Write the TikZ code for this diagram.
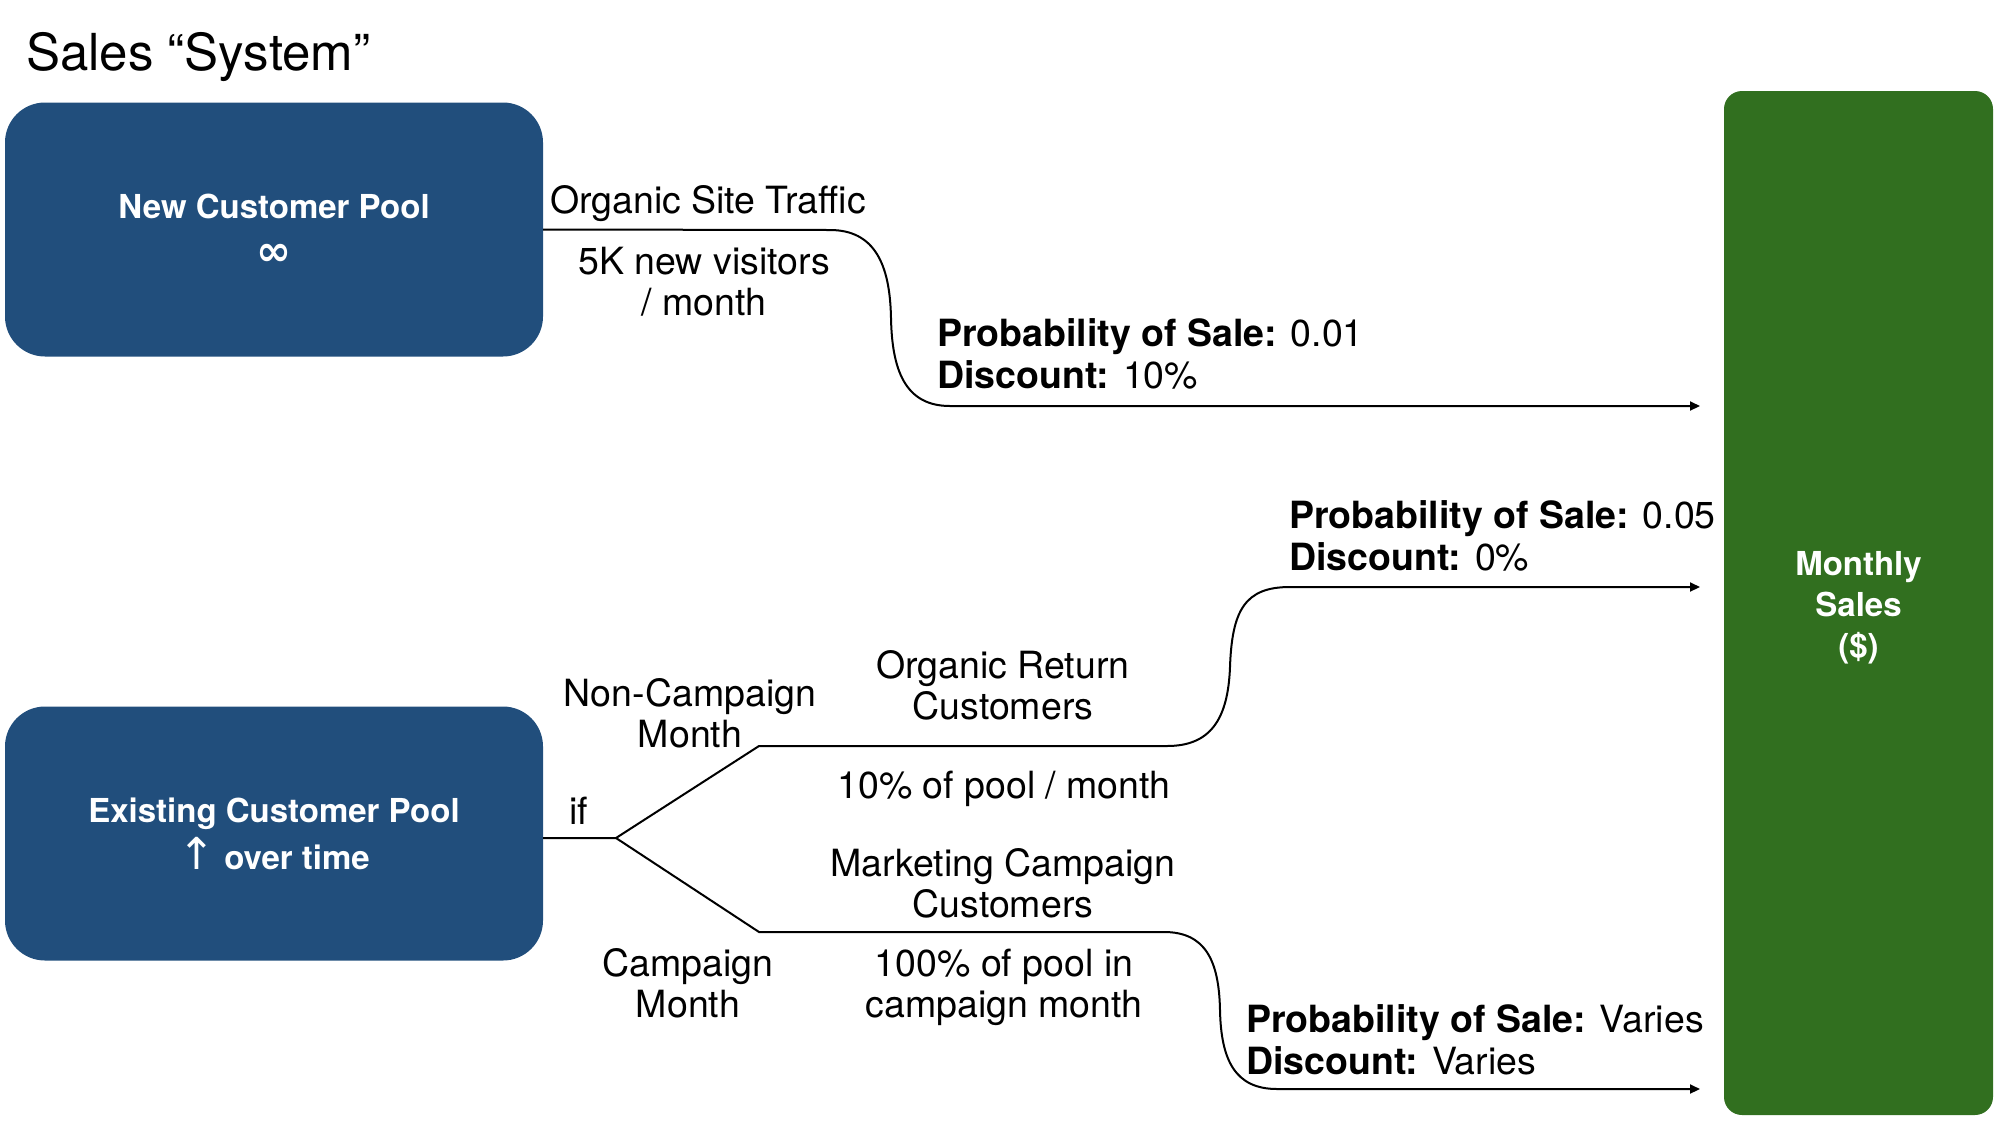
\documentclass[tikz,border=0pt]{standalone}
\usepackage{fontspec}
\setmainfont{TeX Gyre Heros}
\newfontfamily\symb{DejaVu Sans}
\usetikzlibrary{arrows.meta}
\definecolor{poolblue}{RGB}{33,78,124}
\definecolor{salesgreen}{RGB}{49,111,31}

\begin{document}
\begin{tikzpicture}[x=1pt,y=-1pt]
\tikzstyle{every node}=[inner sep=0pt, align=center]
\tikzstyle{pool}=[fill=poolblue, rounded corners=40pt, text=white, minimum width=538pt, minimum height=254pt, font=\fontsize{33}{47}\selectfont\bfseries]
\tikzstyle{total}=[fill=salesgreen, rounded corners=18pt, minimum width=269pt, minimum height=1024pt]
\tikzstyle{totaltext}=[text=white, yshift=-5pt, font=\fontsize{33}{41}\selectfont\bfseries]
\tikzstyle{lbl}=[anchor=base, font=\fontsize{37.5}{41}\selectfont]
\tikzstyle{odds}=[anchor=base west, align=left, font=\fontsize{37.5}{42}\selectfont]
\tikzstyle{flow}=[line width=2pt]
\tikzstyle{sale}=[flow, -{Triangle[length=10pt,width=9pt]}]
\useasboundingbox (0,0) rectangle (2014,1120);

% boxes
\draw (26,70) node (title) [anchor=base west, font=\fontsize{51}{56}\selectfont] {Sales “System”};
\draw (274,229.5) node (p1) [pool] {New Customer Pool\\{\symb\fontsize{42}{47}\selectfont ∞}};
\draw (274,833.5) node (p2) [pool] {Existing Customer Pool\\{\symb\mdseries\fontsize{44}{47}\selectfont ↑} over time};
\draw (1858.5,603) node (s) [total, label={[totaltext]center:{Monthly\\Sales\\(\$)}}] {};

% labels (base = last line)
\draw (708,213) node (t1) [lbl] {Organic Site Traffic};
\draw (704,315) node (t2) [lbl] {5K new visitors\\/ month};
\draw (937,388) node (o1) [odds] {\textbf{Probability of Sale:} 0.01\\\textbf{Discount:} 10\%};
\draw (569,824) node (w0) [lbl, anchor=base west] {if};
\draw (690,747) node (w1) [lbl] {Non-Campaign\\Month};
\draw (688,1017) node (w2) [lbl] {Campaign\\Month};
\draw (1003,719) node (t3) [lbl] {Organic Return\\Customers};
\draw (1004,798) node (t4) [lbl] {10\% of pool / month};
\draw (1003,917) node (t5) [lbl] {Marketing Campaign\\Customers};
\draw (1004,1017) node (t6) [lbl] {100\% of pool in\\campaign month};
\draw (1289,570) node (o2) [odds] {\textbf{Probability of Sale:} 0.05\\\textbf{Discount:} 0\%};
\draw (1246,1074) node (o3) [odds] {\textbf{Probability of Sale:} Varies\\\textbf{Discount:} Varies};

\coordinate (c1) at (830,230);
\coordinate (m1) at (891,318);
\coordinate (d1) at (950,406);
\coordinate (e1) at (1700,406);
\coordinate (f) at (616,838);
\coordinate (u) at (759,746);
\coordinate (l) at (759,932);
\coordinate (c2) at (1167,746);
\coordinate (m2) at (1230,667);
\coordinate (d2) at (1290,587);
\coordinate (e2) at (1700,587);
\coordinate (c3) at (1164,932);
\coordinate (m3) at (1220,1010);
\coordinate (d3) at (1277,1089);
\coordinate (e3) at (1700,1089);

% flows
\draw [sale] (p1.east) -- (c1) .. controls +(45,0) and +(-1,-53) .. (m1) .. controls +(1,52) and +(-45,0) .. (d1) -- (e1);
\draw [sale] (p2.east |- f) -- (f) -- (u) -- (c2) .. controls +(43,0) and +(-2,53) .. (m2) .. controls +(2,-57) and +(-45,0) .. (d2) -- (e2);
\draw [sale] (f) -- (l) -- (c3) .. controls +(41,0) and +(-1,-50) .. (m3) .. controls +(1,50) and +(-42,0) .. (d3) -- (e3);
\end{tikzpicture}
\end{document}
